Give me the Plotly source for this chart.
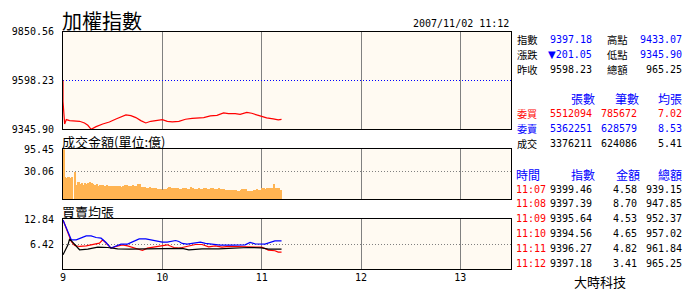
import numpy as np
import plotly.graph_objects as go

# ---------------- data ----------------
title_text = "加權指數"
stamp_text = "2007/11/02 11:12"
amount_label = "成交金額(單位:億)"
avg_label = "買賣均張"
source_text = "大時科技"

prev_close = 9598.23
idx_low, idx_high = 9345.90, 9850.56
idx_ticks = [9345.90, 9598.23, 9850.56]

# index line (time, value)
idx_times = ["09:00", "09:00", "09:01", "09:02", "09:04", "09:07", "09:10", "09:13", "09:15",
             "09:17", "09:20", "09:24", "09:28", "09:32", "09:35", "09:38", "09:41", "09:44",
             "09:47", "09:50", "09:53", "09:57", "10:00", "10:03", "10:06", "10:10", "10:14",
             "10:18", "10:22", "10:25", "10:29", "10:33", "10:37", "10:40", "10:44", "10:47",
             "10:51", "10:54", "10:57", "11:00", "11:03", "11:07", "11:08", "11:09", "11:10",
             "11:11", "11:12"]
idx_values = [9598.23, 9490.6, 9373.5, 9395.9, 9390.7, 9387.2, 9387.2, 9378.6, 9366.6,
              9345.90, 9359.7, 9373.5, 9383.8, 9399.3, 9407.9, 9420.0, 9416.5, 9406.2,
              9390.7, 9378.6, 9387.2, 9392.4, 9395.9, 9387.2, 9383.8, 9387.2, 9397.6,
              9402.7, 9404.5, 9406.2, 9414.8, 9418.2, 9430.3, 9426.9, 9426.9, 9423.4,
              9433.07, 9428.6, 9420.0, 9413.1, 9404.5, 9399.46, 9397.39, 9395.64, 9394.56,
              9396.27, 9397.18]

# traded amount per minute (億), minutes ending 09:01 ... 11:12
amt_values = [
    95.45, 18.5, 17.4, 18.5, 16.8, 17.9, 0, 27.8, 7.8, 10.6,
    8.6, 10.2, 7.8, 9.8, 8.6, 10.2, 11.0, 10.2, 9.0, 7.8,
    8.6, 6.1, 7.8, 7.8, 7.5, 6.8, 7.8, 6.45, 6.45, 6.1,
    6.1, 6.1, 6.1, 6.1, 6.1, 5.2, 6.45, 7.8, 7.5, 6.1,
    6.1, 6.1, 7.1, 6.8, 6.45, 8.6, 9.0, 5.2, 5.2, 5.5,
    4.62, 4.9, 5.2, 4.34, 4.34, 4.62, 4.62, 4.08, 3.82, 3.82,
    3.33, 3.82, 4.08, 4.34, 5.2, 4.9, 4.34, 4.62, 4.62, 4.34,
    4.08, 4.08, 4.34, 4.62, 4.34, 3.82, 4.08, 5.2, 4.62, 3.82,
    4.08, 3.82, 4.34, 3.57, 4.08, 4.34, 4.34, 3.82, 3.57, 4.34,
    4.34, 4.08, 4.08, 4.08, 4.34, 3.82, 3.57, 3.57, 2.87, 2.87,
    3.09, 3.33, 3.33, 2.87, 2.87, 2.65, 2.65, 2.87, 3.57, 3.57,
    3.57, 2.24, 2.24, 2.65, 2.65, 3.09, 3.09, 3.82, 3.33, 3.33,
    4.34, 4.62, 4.08, 4.62, 4.62, 4.9, 4.58, 8.70, 4.53, 4.65,
    4.82, 3.41]
amt_top, amt_mid = 95.45, 30.06

# average lot lines (minutes after 09:00, value)
buy_min = [0, 3, 5, 7, 10, 14, 18, 22, 24, 26, 29, 32, 36, 39, 43, 48, 51, 55, 59, 63, 67, 70,
           72, 76, 80, 84, 88, 92, 96, 100, 108, 116, 120, 122, 124, 128, 130, 132]
buy_avg = [12.67, 9.4, 7.1, 6.08, 5.82, 5.99, 6.25, 6.68, 7.53, 6.68, 5.39, 5.82, 6.25, 5.99,
           5.39, 4.79, 5.39, 5.65, 5.99, 6.25, 5.56, 5.39, 5.56, 5.99, 6.33, 6.33, 5.74, 5.99,
           5.65, 5.82, 5.74, 5.74, 5.65, 5.31, 4.88, 4.71, 4.37, 4.37]
sell_min = [0, 3, 5, 8, 11, 14, 17, 20, 23, 26, 29, 32, 35, 39, 42, 46, 50, 53, 57, 60, 63, 66,
            68, 70, 72, 75, 79, 83, 86, 92, 95, 102, 110, 113, 116, 122, 124, 126, 128, 132]
sell_avg = [12.67, 9.4, 7.53, 7.53, 8.13, 8.56, 8.56, 8.13, 7.96, 6.85, 5.39, 5.99, 6.42, 6.42,
            6.93, 7.79, 7.79, 7.53, 7.1, 6.93, 6.93, 7.28, 7.36, 7.1, 6.6, 6.42, 6.68, 6.93,
            6.6, 6.42, 6.16, 6.16, 6.25, 6.85, 6.5, 6.42, 6.68, 7.1, 7.28, 7.28]
deal_min = [0, 3, 4, 7, 10, 15, 21, 27, 29, 33, 40, 50, 60, 70, 72, 76, 80, 84, 94, 104, 112,
            120, 122, 124, 132]
deal_avg = [3.68, 6.25, 7.79, 6.25, 4.97, 5.14, 5.65, 5.56, 5.39, 5.22, 5.14, 5.14, 5.14, 5.22,
            5.31, 4.96, 5.05, 5.22, 5.22, 5.39, 5.56, 5.48, 5.39, 5.14, 5.14]
avg_top, avg_mid = 12.84, 6.42

x_ticks = [9, 10, 11, 12, 13]

# right-panel summary
summary_rows = [
    ("指數", "9397.18", "高點", "9433.07"),
    ("漲跌", "▼201.05", "低點", "9345.90"),
    ("昨收", "9598.23", "總額", "965.25"),
]
order_head = ["張數", "筆數", "均張"]
order_rows = [
    ("委買", "5512094", "785672", "7.02"),
    ("委賣", "5362251", "628579", "8.53"),
    ("成交", "3376211", "624086", "5.41"),
]
tick_head = ["時間", "指數", "金額", "總額"]
tick_rows = [
    ("11:07", "9399.46", "4.58", "939.15"),
    ("11:08", "9397.39", "8.70", "947.85"),
    ("11:09", "9395.64", "4.53", "952.37"),
    ("11:10", "9394.56", "4.65", "957.02"),
    ("11:11", "9396.27", "4.82", "961.84"),
    ("11:12", "9397.18", "3.41", "965.25"),
]

# ---------------- figure ----------------
W, H = 690, 300
L, R, T, B = 60, 179, 31, 31
PW, PH = W - L - R, H - T - B

def hours(t):
    h, m = t.split(":")
    return int(h) + int(m) / 60.0

CJK = "Noto Sans CJK TC"
MONO = "DejaVu Sans Mono"
BLUE, RED, BLACK = "#0000FF", "#FF0000", "#000000"
BG = "#FFFAF2"

fig = go.Figure()

fig.add_trace(go.Scatter(x=[hours(t) for t in idx_times], y=idx_values, mode="lines",
                         line=dict(color=RED, width=1.2), xaxis="x", yaxis="y",
                         showlegend=False, hoverinfo="skip"))

bar_x = [9 + (m - 0.5) / 60.0 for m in range(1, len(amt_values) + 1)]
fig.add_trace(go.Bar(x=bar_x, y=np.sqrt(np.array(amt_values)), width=1 / 60.0,
                     marker=dict(color="#FFB452", line=dict(width=0)),
                     xaxis="x2", yaxis="y2", showlegend=False, hoverinfo="skip"))

for mins, vals, col in [(buy_min, buy_avg, RED), (sell_min, sell_avg, BLUE),
                        (deal_min, deal_avg, BLACK)]:
    fig.add_trace(go.Scatter(x=[9 + m / 60.0 for m in mins], y=vals, mode="lines",
                             line=dict(color=col, width=1.2), xaxis="x3", yaxis="y3",
                             showlegend=False, hoverinfo="skip"))

def dom(top_px, bot_px):
    return [(H - B - bot_px) / PH, (H - B - top_px) / PH]

xcommon = dict(range=[9, 13.51], tickvals=x_ticks, showgrid=True, gridcolor="#808080",
               gridwidth=1, showline=True, mirror=True, linecolor="black", linewidth=1,
               zeroline=False, ticks="", fixedrange=True)
ycommon = dict(showline=True, mirror=True, linecolor="black", linewidth=1, zeroline=False,
               ticks="", showgrid=True, gridwidth=1, griddash="1px,2px",
               tickfont=dict(family=MONO, size=10, color="black"), ticklabelstandoff=6)

fig.update_layout(
    width=W, height=H, autosize=False,
    margin=dict(l=L, r=R, t=T, b=B, pad=0),
    paper_bgcolor="white", plot_bgcolor=BG,
    bargap=0, showlegend=False,
    xaxis=dict(**xcommon, anchor="y", showticklabels=False),
    xaxis2=dict(**xcommon, anchor="y2", showticklabels=False, matches="x"),
    xaxis3=dict(**xcommon, anchor="y3", showticklabels=True, matches="x",
                tickfont=dict(family=MONO, size=10, color="black"), ticklabelstandoff=-1),
    yaxis=dict(**ycommon, domain=dom(31.5, 129.3), range=[idx_low, idx_high],
               tickvals=idx_ticks, ticktext=[f"{v:.2f}" for v in idx_ticks], gridcolor=BLUE),
    yaxis2=dict(**ycommon, domain=dom(149.3, 199.3), range=[0, np.sqrt(amt_top)],
                tickvals=[np.sqrt(amt_mid), np.sqrt(amt_top)],
                ticktext=[f"{amt_mid:.2f}", f"{amt_top:.2f}"], gridcolor="#808080"),
    yaxis3=dict(**ycommon, domain=dom(219.3, 269), range=[0, avg_top],
                tickvals=[avg_mid, avg_top], ticktext=[f"{avg_mid:.2f}", f"{avg_top:.2f}"],
                gridcolor="#808080"),
)

def txt(s, px, py, anchor="left", color=BLACK, size=10, family=MONO):
    fig.add_annotation(text=s, xref="paper", yref="paper",
                       x=(px - L) / PW, y=(H - B - py) / PH,
                       xanchor=anchor, yanchor="middle", showarrow=False,
                       borderpad=0, font=dict(family=family, size=size, color=color))

def tri(s):
    if s.startswith("▼"):
        return ('<span style="font-family:\'DejaVu Sans\';font-size:10px">▼</span>'
                + s[1:])
    return s

txt(title_text, 58, 21, "left", BLACK, 20, CJK)
txt(stamp_text, 510, 23.5, "right", BLACK, 10, MONO)
txt(amount_label, 58, 141.5, "left", BLACK, 13, CJK)
txt(avg_label, 58, 211.5, "left", BLACK, 13, CJK)

ROW = 10.3  # CJK row-label size: keeps the stacked labels' line boxes apart

# summary block
for i, (a, b, c, d) in enumerate(summary_rows):
    y = 39 + i * 15
    txt(a, 516, y, "left", BLACK, ROW, CJK)
    txt(tri(b), 594, y, "right", BLUE if i < 2 else BLACK)
    txt(c, 607, y, "left", BLACK, ROW, CJK)
    txt(d, 684, y, "right", BLUE if i < 2 else BLACK)

# order block
for s, xr in zip(order_head, [597, 641, 684]):
    txt(s, xr, 98.5, "right", BLUE, 12, CJK)
row_cols = [RED, BLUE, BLACK]
for i, (a, b, c, d) in enumerate(order_rows):
    y = 113.5 + i * 14.8
    col = row_cols[i]
    txt(a, 516, y, "left", col, 10.1, CJK)
    txt(b, 594, y, "right", col)
    txt(c, 639, y, "right", col)
    txt(d, 684, y, "right", col)

# tick table
txt(tick_head[0], 515, 174, "left", BLUE, 12, CJK)
for s, xr in zip(tick_head[1:], [597, 642, 684]):
    txt(s, xr, 174, "right", BLUE, 12, CJK)
for i, (a, b, c, d) in enumerate(tick_rows):
    y = 189 + i * 14.85
    txt(a, 515.5, y, "left", RED)
    txt(b, 594, y, "right")
    txt(c, 639, y, "right")
    txt(d, 684, y, "right")

txt(source_text, 601, 281, "center", BLACK, 13, CJK)

fig.write_html("out.html")
